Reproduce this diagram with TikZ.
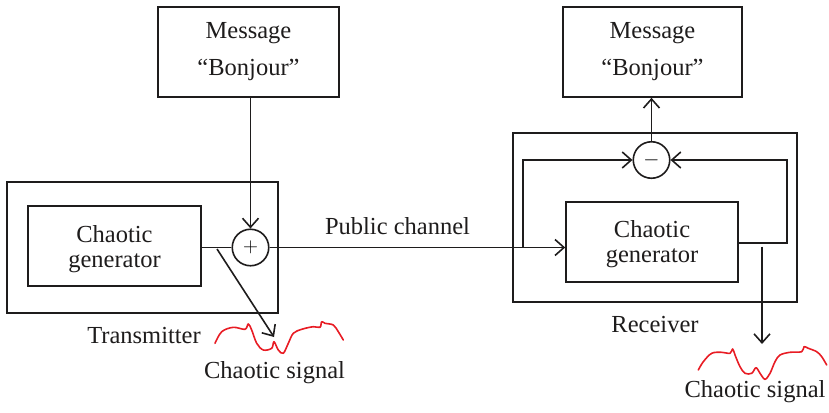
\documentclass[tikz,border=0pt]{standalone}
\usepackage{fontspec}
\setmainfont[Ligatures=TeX]{Liberation Serif}
\usetikzlibrary{arrows.meta}
\definecolor{sq}{RGB}{232,28,36}
\definecolor{ink}{RGB}{30,28,28}
\tikzset{
  box/.style={draw=ink, line width=1.6pt, inner sep=0pt},
  txt/.style={anchor=base, inner sep=0pt, font=\rmfamily\fontsize{24.5}{25}\selectfont, text=ink},
  sumnode/.style={draw=ink, circle, line width=1.6pt, minimum size=36.5pt, inner sep=0pt, font=\fontsize{22}{22}\selectfont},
  wire/.style={draw=ink, line width=1.6pt},
  arr/.style={wire, -{Straight Barb[length=9pt,width=16pt,line width=1.6pt]}},
  squig/.style={draw=sq, line width=1.6pt, line cap=round, line join=round}
}
\begin{document}
\begin{tikzpicture}[x=1pt,y=-1pt]
\useasboundingbox (0,0) rectangle (829,412);
% left side
\node[box, minimum width=181pt, minimum height=90pt] (mL) at (248.5,52) {};
\node[txt] (mL1) at (248.5,39) {Message};
\node[txt] (mL2) at (248.5,75) {“Bonjour”};
\node[box, minimum width=271pt, minimum height=131pt] (tx) at (142.5,247.5) {};
\node[box, minimum width=173pt, minimum height=80pt] (gL) at (114.5,246) {};
\node[txt] (gL1) at (114.5,242) {Chaotic};
\node[txt] (gL2) at (114.5,267) {generator};
\node[sumnode] (pl) at (250.5,247.5) {$+$};
\node[txt] (txl) at (144,343) {Transmitter};
\node[txt] (csL) at (274.5,378) {Chaotic signal};
\node[txt] (pc) at (397.5,234) {Public channel};
% right side
\node[box, minimum width=179pt, minimum height=90pt] (mR) at (652.5,52) {};
\node[txt] (mR1) at (652.5,39) {Message};
\node[txt] (mR2) at (652.5,75) {“Bonjour”};
\node[box, minimum width=284pt, minimum height=169pt] (rx) at (655,217.5) {};
\node[box, minimum width=172pt, minimum height=80pt] (gR) at (652,242) {};
\node[txt] (gR1) at (652,237) {Chaotic};
\node[txt] (gR2) at (652,262) {generator};
\node[sumnode] (mi) at (651.5,160) {$-$};
\node[txt] (rxl) at (655,332) {Receiver};
\node[txt] (csR) at (755,397) {Chaotic signal};
% coordinates
\coordinate (dS) at (217,249);
\coordinate (dE) at (274,337);
\coordinate (fb) at (523,246.5);
\coordinate (oR) at (787,243);
\coordinate (vS) at (762,246.5);
\coordinate (vE) at (762,344);
% connectors left
\draw[arr] (mL.south -| pl.north) -- (pl.north);
\draw[wire] (gL.east |- pl.west) -- (pl.west);
\draw[arr] (pl.east) -- (pl.east -| gR.west);
\draw[arr] (dS) -- (dE);
% connectors right
\draw[arr] (mi.north) -- (mi.north |- mR.south);
\draw[arr] (fb) |- (mi.west);
\draw[arr] (gR.east |- oR) -- (oR) |- (mi.east);
\draw[arr] (vS) -- (vE);
% squiggles
\draw[squig] plot[smooth, tension=0.55] coordinates {(215,343.3) (221.7,331.7) (233.3,327.3) (245,329.3) (248.3,324) (251.7,330) (256.7,343.3) (263.3,350) (271.7,348.3) (274,341.7) (278.3,350) (283.3,353.3) (288.3,343.3) (293.3,333.3) (301.7,329.3) (313.3,326.7) (320,327.3) (321.7,321.7) (325,323.3) (333.3,325) (338.3,331.7) (343.3,340)};
\draw[squig] plot[smooth, tension=0.55] coordinates {(698.3,370) (703.3,361.7) (711.7,353.3) (721.7,352.3) (730,353.3) (732.7,349) (735,355) (740,366.7) (745,373.3) (751.7,373.3) (756,367.7) (760,373.3) (765,379.3) (770,373.3) (775,361.7) (780,355) (790,352.3) (801.7,351.7) (804,346.7) (808.3,348.3) (816.7,351.7) (821.7,356.7) (826.7,365)};
\end{tikzpicture}
\end{document}
